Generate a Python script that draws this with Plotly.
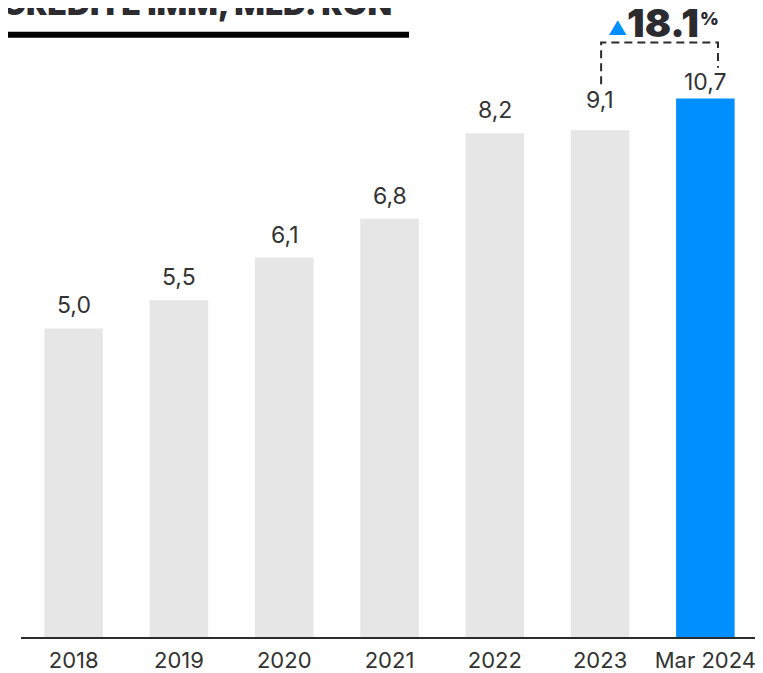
import plotly.graph_objects as go

categories = ['2018', '2019', '2020', '2021', '2022', '2023', 'Mar 2024']
value_labels = ['5,0', '5,5', '6,1', '6,8', '8,2', '9,1', '10,7']
# bar heights as drawn in the picture (not strictly proportional to the labels)
bar_heights = [6.13, 6.69, 7.54, 8.31, 10.01, 10.07, 10.7]
growth_label = '18.1'

GREY = '#e6e6e6'
BLUE = '#008fff'
DARK = '#2b2b30'
TEXT = '#333333'
FONT = 'Inter'

colors = [GREY] * (len(categories) - 1) + [BLUE]

fig = go.Figure()
fig.add_trace(go.Bar(
    x=list(range(len(categories))),
    y=bar_heights,
    marker=dict(color=colors, line=dict(width=0)),
    hoverinfo='skip',
))

# value labels above bars
label_shift = [7, 7, 7, 7, 7, 14, 0]
for i, (h, lab) in enumerate(zip(bar_heights, value_labels)):
    fig.add_annotation(
        x=i, y=h, text=lab, showarrow=False,
        xanchor='center', yanchor='bottom', yshift=label_shift[i],
        font=dict(family=FONT, size=23, color=TEXT),
    )

# bracket between 2023 and Mar 2024
i0, i1 = 5, 6
fig.add_shape(
    type='path', xref='x', yref='y',
    path=f'M {i0 + 0.01},10.98 L {i0 + 0.01},11.81 L {i1 + 0.12},11.81 L {i1 + 0.12},11.31',
    line=dict(color=DARK, width=2, dash='8px,5px'),
)
fig.add_annotation(x=5.165, y=12.08, text='▲', showarrow=False,
                   xanchor='center', yanchor='middle',
                   font=dict(family=FONT, size=19, color=BLUE))
fig.add_annotation(x=5.60, y=12.2, text=growth_label, showarrow=False,
                   xanchor='center', yanchor='middle',
                   font=dict(family=FONT, size=39, color=DARK, weight=900))
fig.add_annotation(x=6.04, y=12.29, text='%', showarrow=False,
                   xanchor='center', yanchor='middle',
                   font=dict(family=FONT, size=18, color=DARK, weight=900))

# title (cut at the top edge) and underline
fig.add_annotation(xref='paper', yref='paper', x=-0.0285, y=1.0074,
                   text='CREDITE IMM, MLD. RON', showarrow=False,
                   xanchor='left', yanchor='middle',
                   font=dict(family=FONT, size=32, color=DARK, weight=900))
fig.add_shape(type='line', xref='paper', yref='paper',
              x0=-0.0285, x1=0.5265, y0=0.9573, y1=0.9573,
              line=dict(color='#000000', width=6))

fig.update_layout(
    width=755, height=665,
    margin=dict(l=13, r=5, t=0, b=32),
    paper_bgcolor='white', plot_bgcolor='white',
    bargap=0.444,
    showlegend=False,
    xaxis=dict(
        tickmode='array', tickvals=list(range(len(categories))), ticktext=categories,
        range=[-0.5, len(categories) - 0.5],
        showline=True, linecolor=DARK, linewidth=2,
        showgrid=False, zeroline=False, ticks='',
        ticklabelstandoff=3,
        tickfont=dict(family=FONT, size=22, color=TEXT),
        fixedrange=True,
    ),
    yaxis=dict(
        range=[0, 12.497], visible=False, showgrid=False, zeroline=False,
        fixedrange=True,
    ),
)

fig.write_html('out.html')
